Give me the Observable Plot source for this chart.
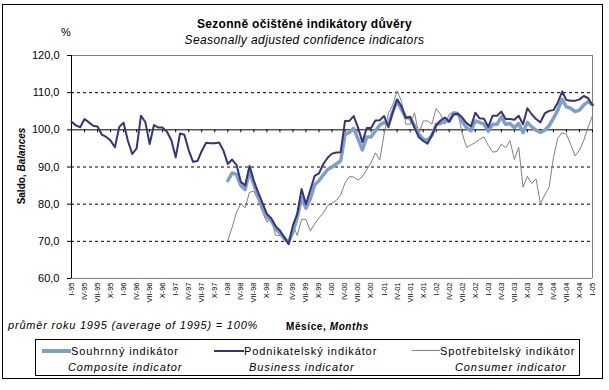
<!DOCTYPE html>
<html><head><meta charset="utf-8">
<script src="https://cdn.jsdelivr.net/npm/d3@7"></script>
<script src="https://cdn.jsdelivr.net/npm/@observablehq/plot@0.6"></script>
<style>
body{margin:0;background:#fff;font-family:"Liberation Sans",Arial,sans-serif;color:#000;}
#wrap{position:relative;width:609px;height:390px;overflow:hidden;background:#fff;}
.abs{position:absolute;white-space:nowrap;line-height:1;}
#frame{position:absolute;left:2px;top:4px;width:601px;height:375px;border:1px solid #000;box-sizing:border-box;}
#legend{position:absolute;left:35px;top:339px;width:545px;height:37px;border:1px solid #000;box-sizing:border-box;}
.t11{font-size:11px;}
.lg{letter-spacing:0.9px;}
.it{font-style:italic;}
.b{font-weight:bold;}
.swatch{position:absolute;}
</style></head><body>
<div id="wrap">
  <div id="chart" class="abs" style="left:0;top:0"></div>
  <div id="frame"></div>
  <div class="abs b" style="left:0;width:609px;text-align:center;top:18px;font-size:12px;letter-spacing:0.3px">Sezonně očištěné indikátory důvěry</div>
  <div class="abs it" style="left:0;width:609px;text-align:center;top:34px;font-size:12px;letter-spacing:0.4px">Seasonally adjusted confidence indicators</div>
  <div class="abs t11" style="left:61px;top:27px">%</div>
  <div class="abs b" style="left:22px;top:166px;font-size:10px;transform:translate(-50%,-50%) rotate(-90deg)">Saldo, <span class="it">Balances</span></div>
  <div class="abs t11 it" style="left:8px;top:320px;letter-spacing:0.8px">průměr roku 1995 (average of 1995) = 100%</div>
  <div class="abs b" style="left:286px;top:322px;font-size:10px;letter-spacing:0.6px">Měsíce, <span class="it">Months</span></div>
  <div id="legend"></div>
  <div class="swatch" style="left:42px;top:349px;width:29px;height:4px;background:#7f9fc6"></div>
  <div class="abs t11 lg" style="left:71px;top:346px">Souhrnný indikátor</div>
  <div class="abs t11 it lg" style="left:68px;top:362px">Composite indicator</div>
  <div class="swatch" style="left:214px;top:350px;width:30px;height:2px;background:#33337f"></div>
  <div class="abs t11 lg" style="left:244px;top:346px">Podnikatelský indikátor</div>
  <div class="abs t11 it lg" style="left:249px;top:362px">Business indicator</div>
  <div class="swatch" style="left:412px;top:350px;width:28px;height:1px;background:#808080"></div>
  <div class="abs t11 lg" style="left:440px;top:346px">Spotřebitelský indikátor</div>
  <div class="abs t11 it lg" style="left:455px;top:362px">Consumer indicator</div>
</div>
<script>
const romans = ["I","II","III","IV","V","VI","VII","VIII","IX","X","XI","XII"];
const years = ["95","96","97","98","99","00","01","02","03","04","05"];
const months = years.flatMap(y => romans.map(r => `${r}-${y}`)).slice(0, 121);
const tickLabels = ["I-95","IV-95","VII-95","X-95","I-96","IV-96","VII-96","X-96","I-97","IV-97","VII-97","X-97",
  "I-98","IV-98","VII-98","X-98","I-99","IV-99","VII-99","X-99","I-00","IV-00","VII-00","X-00",
  "I-01","IV-01","VII-01","X-01","I-02","IV-02","VII-02","X-02","I-03","IV-03","VII-03","X-03",
  "I-04","IV-04","VII-04","X-04","I-05"];
const yTicks = [60,70,80,90,100,110,120];
const gridValues = [70,80,90,110];
const seriesStart = "I-98";

// Business indicator, I-95 .. I-05
const business = [
  102.2,101.2,100.7,102.9,102.0,101.1,100.9,98.7,98.1,97.1,95.3,100.8,
  101.9,97.0,93.5,95.0,103.8,102.1,96.2,101.3,100.6,100.6,99.5,97.2,
  92.6,99.0,98.7,94.5,91.4,91.6,94.3,96.5,96.4,96.4,96.6,94.4,
  90.8,92.0,90.6,86.0,85.0,90.3,86.3,83.2,80.3,77.4,76.2,74.1,
  72.9,71.1,69.2,74.3,77.4,84.1,80.0,83.8,87.6,88.3,90.8,92.5,
  93.6,93.9,94.0,102.4,102.4,103.7,100.6,96.7,100.5,100.5,102.5,102.6,
  103.7,100.7,104.8,108.2,106.3,103.2,103.5,100.6,98.0,97.0,96.3,98.6,
  101.2,102.5,103.3,102.2,104.2,104.3,103.3,101.8,100.9,104.6,103.1,103.0,
  100.8,103.8,103.8,104.9,102.9,102.9,102.7,103.8,101.5,105.8,104.2,102.9,
  102.0,104.4,105.1,105.3,107.3,110.3,108.0,107.8,107.8,108.2,109.1,108.5,
  106.7];
// Composite indicator, I-98 .. I-05
const composite = [
  86.3,88.4,88.0,85.0,83.9,89.0,85.2,82.3,79.2,76.5,75.6,73.4,
  72.2,70.7,69.8,72.5,76.5,81.9,78.9,81.4,85.2,86.3,87.9,89.3,
  90.0,90.8,91.6,98.8,99.3,100.4,97.5,94.6,98.1,98.1,99.7,101.3,
  102.0,101.5,104.9,107.8,105.5,103.3,103.1,101.1,98.8,97.5,97.2,98.4,
  101.5,101.7,102.4,102.4,104.4,104.2,102.2,100.6,99.7,102.4,102.0,101.5,
  99.7,101.5,101.5,103.5,101.5,101.7,100.6,101.7,99.3,102.0,100.8,99.9,
  99.3,99.9,101.1,103.1,105.3,108.2,106.2,105.8,104.9,105.3,106.7,107.6,
  106.7];
// Consumer indicator, I-98 .. I-05
const consumer = [
  70.2,73.8,77.8,80.1,79.0,83.2,83.5,81.0,77.8,75.2,76.2,71.6,
  71.6,71.6,69.8,74.3,71.6,75.9,75.9,72.8,74.7,76.3,77.7,79.6,
  80.3,81.0,82.5,85.7,87.4,87.3,86.5,87.4,89.3,91.2,93.8,91.9,
  98.8,104.5,106.7,110.5,107.7,101.5,101.5,104.6,98.8,102.4,102.4,101.5,
  105.7,104.2,101.5,104.2,104.9,104.7,99.0,95.3,95.9,96.6,97.4,98.1,
  95.8,94.0,94.2,96.2,95.2,97.1,92.0,95.3,84.6,87.5,85.6,86.8,
  80.2,82.5,84.5,92.5,97.8,99.2,98.8,96.0,93.0,94.5,97.2,100.8,
  103.8];

const start = months.indexOf(seriesStart);
const businessRows = business.map((v, i) => ({month: months[i], value: v}));
const compositeRows = composite.map((v, i) => ({month: months[start + i], value: v}));
const consumerRows = consumer.map((v, i) => ({month: months[start + i], value: v}));

const chart = Plot.plot({
  width: 609, height: 390,
  marginLeft: 71, marginRight: 17, marginTop: 55, marginBottom: 112,
  style: {fontFamily: "'Liberation Sans', Arial, sans-serif", fontSize: "11px", color: "#000", background: "transparent", overflow: "visible"},
  x: {type: "point", domain: months, padding: 0},
  y: {domain: [60, 120]},
  marks: [
    Plot.ruleY(gridValues, {stroke: "#000", strokeDasharray: "3,3", strokeWidth: 1}),
    Plot.ruleY([yTicks[0], yTicks[yTicks.length - 1]], {stroke: "#808080"}),
    Plot.ruleX([months[months.length - 1]], {stroke: "#808080"}),
    Plot.ruleY([100], {stroke: "#000"}),
    Plot.ruleX(tickLabels, {x: d => d, y1: 100, y2: 99.2, stroke: "#000"}),
    Plot.ruleX([months[0]], {stroke: "#000"}),
    Plot.axisY({ticks: yTicks, tickSize: 4, tickPadding: 8, fontSize: 11, label: null,
      tickFormat: d => d.toFixed(1).replace(".", ",")}),
    Plot.axisX({ticks: tickLabels, tickRotate: -90, tickSize: 0, tickPadding: 4, fontSize: 7.5, label: null}),
    Plot.line(consumerRows, {x: "month", y: "value", stroke: "#808080", strokeWidth: 1}),
    Plot.line(compositeRows, {x: "month", y: "value", stroke: "#7f9fc6", strokeWidth: 3.5}),
    Plot.line(businessRows, {x: "month", y: "value", stroke: "#33337f", strokeWidth: 2})
  ]
});
document.getElementById("chart").appendChild(chart);
</script>
</body></html>
